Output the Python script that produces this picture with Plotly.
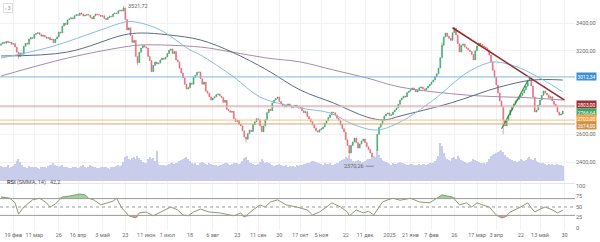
import plotly.graph_objects as go

# ---------------- DATA ----------------
closes = [
3250,3262,3255,3268,3260,3263,3248,3252,3227,3190,3158,3185,3176,3232,3255,3248,3284,3296,3290,3318,
3325,3330,3318,3305,3312,3300,3290,3296,3278,3284,3258,3285,3300,3335,3328,3378,3398,3390,3422,3430,
3438,3430,3452,3460,3455,3472,3465,3450,3455,3462,3457,3440,3429,3450,3465,3460,3457,3448,3452,3432,
3425,3440,3450,3445,3465,3472,3468,3488,3493,3486,3508,3425,3350,3365,3310,3260,3275,3160,3115,3190,
3220,3238,3228,3220,3160,3130,3050,3095,3120,3105,3112,3135,3148,3140,3155,3180,3205,3213,3180,3195,
3135,3120,3075,3040,3005,2960,2925,2935,2969,2960,3010,3025,3045,3048,3000,2960,2975,2910,2895,2870,
2846,2860,2870,2885,2890,2875,2865,2830,2845,2778,2770,2758,2765,2712,2692,2700,2672,2660,2625,2580,
2565,2605,2630,2620,2670,2690,2712,2705,2660,2618,2660,2705,2755,2780,2770,2825,2846,2858,2868,2835,
2820,2805,2796,2808,2818,2805,2790,2800,2810,2798,2789,2795,2770,2755,2762,2728,2710,2690,2668,2645,
2625,2616,2632,2640,2652,2680,2698,2720,2740,2760,2755,2738,2715,2700,2668,2640,2616,2560,2520,2465,
2520,2545,2573,2540,2501,2530,2551,2566,2540,2510,2490,2465,2430,2412,2432,2600,2650,2674,2700,2731,
2745,2753,2735,2740,2760,2775,2789,2815,2846,2860,2875,2868,2900,2910,2920,2933,2918,2904,2915,2935,
2940,2925,2918,2932,2947,2960,2976,2990,3015,3035,3076,3150,3240,3300,3328,3305,3290,3275,3330,3364,
3314,3250,3191,3240,3249,3227,3218,3206,3195,3175,3134,3200,3235,3256,3245,3235,3228,3220,3205,3170,
3120,3060,3010,2954,2897,2840,2800,2700,2660,2700,2738,2774,2800,2818,2840,2850,2868,2880,2897,2920,
2945,2985,3005,2947,2868,2760,2774,2810,2846,2880,2911,2895,2882,2861,2870,2839,2815,2803,2760,2738,
2745,2766.64]
first_open = 3240

wick_high_idx = [70, 259, 302, 252]
wick_high_val = [3521.72, 3372, 3022, 3262]
wick_low_idx = [213, 287, 140, 199, 10, 78]
wick_low_val = [2370.26, 2600, 2540, 2445, 3140, 3098]

volumes = [
75,70,68,72,80,66,70,74,85,100,110,95,80,72,70,66,74,70,68,72,
70,65,62,68,70,72,66,75,80,78,88,82,76,70,74,78,72,70,68,66,
65,70,72,68,64,70,74,78,72,66,70,80,76,72,70,66,64,68,70,72,
70,66,62,68,72,70,74,78,76,80,95,120,125,110,105,115,120,110,125,115,
105,95,90,92,110,120,110,115,100,150,85,80,78,82,76,80,85,88,90,85,
88,92,100,105,110,115,120,110,100,90,85,88,82,80,92,95,90,85,80,88,
85,80,78,82,76,80,78,85,90,88,84,80,86,90,92,88,86,90,100,115,
120,105,95,90,85,82,80,84,95,110,100,92,95,88,84,80,76,82,78,84,
80,76,74,78,72,76,70,74,72,78,76,80,82,84,86,90,92,95,98,100,
95,92,88,85,82,90,86,84,88,82,80,84,90,92,98,104,110,120,115,125,
110,100,95,98,105,100,92,96,100,104,108,112,118,125,120,150,130,115,105,100,
95,90,86,82,88,84,86,90,95,92,88,84,80,82,84,86,82,78,80,84,
82,86,84,80,85,88,90,92,100,110,125,190,175,140,120,110,105,100,115,120,
110,125,115,105,100,96,92,90,95,100,110,105,100,96,92,90,88,86,95,110,
125,130,135,140,145,150,155,145,130,120,115,110,105,100,98,96,100,110,105,100,
105,115,120,110,105,115,100,95,90,92,88,84,82,86,80,84,82,78,84,80,
78,76]

# moving averages (bar index, value)
ma_fast_idx = [0,28,57,71,77,91,108,114,133,148,171,188,202,215,228,247,266,278,283,295,310,321]
ma_fast_val = [3148,3227,3350,3407,3407,3350,3206,3170,3012,2868,2789,2753,2667,2631,2688,2846,3041,3112,3120,3084,2990,2904]
ma_mid_idx = [0,38,70,80,96,114,132,152,171,190,209,219,228,257,285,304,321]
ma_mid_val = [3163,3191,3314,3328,3314,3278,3191,3062,2918,2825,2724,2703,2731,2825,2940,2990,2990]
ma_slow_idx = [0,38,70,80,114,132,152,171,190,209,228,266,304,321]
ma_slow_val = [3019,3148,3227,3242,3227,3191,3148,3120,3062,3005,2940,2882,2861,2846]

# RSI
rsi_idx = [0,5,8,10,13,18,22,26,28,31,35,39,45,48,50,53,57,61,64,66,69,73,77,79,83,87,91,97,101,104,
           107,110,114,119,125,133,137,139,144,148,151,154,158,163,169,175,178,182,186,189,194,198,199,203,207,
           210,213,215,218,221,224,228,234,239,245,249,252,255,258,262,266,269,272,275,279,283,286,288,291,297,
           301,303,305,308,311,315,318,321]
rsi_val = [74,71,60,33,50,67,71,60,50,57,74,76,81,79,71,67,55,60,64,71,48,29,24,36,38,29,38,50,43,31,
           29,38,45,38,36,29,36,26,43,55,50,62,67,55,50,43,31,38,50,60,50,38,29,43,36,
           40,31,43,62,67,71,66,71,62,60,71,79,76,74,55,60,50,60,55,50,31,24,26,38,50,
           60,48,38,45,50,43,36,42.2]

# trend lines (bar index, price)
trend_red_idx = [258, 322]
trend_red_val = [3366, 2846]
trend_green_idx = [286, 301]
trend_green_val = [2640, 2985]

# horizontal levels
level_vals = [3012.34, 2803.00, 2766.64, 2702.00, 2674.00]
level_text = ["3012,34", "2803,00", "2766,64", "2702,00", "2674,00"]

tick_idx = [7,19,33,44,58,71,83,95,108,121,135,147,159,171,183,197,208,222,234,246,259,272,283,297,308,322]
tick_text = ["19 фев","11 мар","26","16 апр","3 май","23","11 июн","1 июл","18","6 авг","23","11 сен","30",
             "17 окт","5 ноя","22","11 дек","2025","21 янв","7 фев","26","17 мар","3 апр","22","13 май","30"]

price_ticks = [2400, 2600, 3200, 3400]
price_tick_text = ["2400,00", "2600,00", "3200,00", "3400,00"]

# ---------------- BUILD ----------------
n = len(closes)
idx = list(range(n))
opens = [first_open] + closes[:-1]
highs = [max(o, c) for o, c in zip(opens, closes)]
lows = [min(o, c) for o, c in zip(opens, closes)]
for i, v in zip(wick_high_idx, wick_high_val):
    highs[i] = max(highs[i], v)
for i, v in zip(wick_low_idx, wick_low_val):
    lows[i] = min(lows[i], v)

GREEN = "#3aa86b"
RED = "#ec6576"
fig = go.Figure()

fig.add_trace(go.Bar(x=idx, y=volumes, marker_color="#c9cdeb", marker_line_width=0,
                     width=0.75, yaxis="y3", xaxis="x", showlegend=False))

fig.add_trace(go.Scatter(x=ma_slow_idx, y=ma_slow_val, mode="lines", line=dict(color="#a98aae", width=1, shape="spline"),
                         xaxis="x", yaxis="y", showlegend=False))
fig.add_trace(go.Scatter(x=ma_mid_idx, y=ma_mid_val, mode="lines", line=dict(color="#5e6b86", width=1, shape="spline"),
                         xaxis="x", yaxis="y", showlegend=False))
fig.add_trace(go.Scatter(x=ma_fast_idx, y=ma_fast_val, mode="lines", line=dict(color="#86bedb", width=1, shape="spline"),
                         xaxis="x", yaxis="y", showlegend=False))

fig.add_trace(go.Candlestick(x=idx, open=opens, high=highs, low=lows, close=closes,
                             increasing=dict(line=dict(color=GREEN, width=0.6), fillcolor=GREEN),
                             decreasing=dict(line=dict(color=RED, width=0.6), fillcolor=RED),
                             whiskerwidth=0, xaxis="x", yaxis="y", showlegend=False))

fig.add_trace(go.Scatter(x=trend_red_idx, y=trend_red_val, mode="lines", line=dict(color="#8e2f2f", width=1.6),
                         xaxis="x", yaxis="y", showlegend=False))
fig.add_trace(go.Scatter(x=trend_green_idx, y=trend_green_val, mode="lines", line=dict(color="#2f8f3a", width=1.2),
                         xaxis="x", yaxis="y", showlegend=False))

# RSI
hi_clip = [max(v, 70) for v in rsi_val]
lo_clip = [min(v, 30) for v in rsi_val]
fig.add_trace(go.Scatter(x=rsi_idx, y=[70]*len(rsi_idx), mode="lines", line=dict(width=0), xaxis="x2", yaxis="y2", showlegend=False))
fig.add_trace(go.Scatter(x=rsi_idx, y=hi_clip, mode="lines", line=dict(width=0), fill="tonexty",
                         fillcolor="rgba(76,175,80,0.55)", xaxis="x2", yaxis="y2", showlegend=False))
fig.add_trace(go.Scatter(x=rsi_idx, y=[30]*len(rsi_idx), mode="lines", line=dict(width=0), xaxis="x2", yaxis="y2", showlegend=False))
fig.add_trace(go.Scatter(x=rsi_idx, y=lo_clip, mode="lines", line=dict(width=0), fill="tonexty",
                         fillcolor="rgba(229,83,83,0.6)", xaxis="x2", yaxis="y2", showlegend=False))
fig.add_trace(go.Scatter(x=rsi_idx, y=rsi_val, mode="lines", line=dict(color="#8a9a76", width=1),
                         xaxis="x2", yaxis="y2", showlegend=False))

PRICE_DOM = [0.2043, 1]
RSI_DOM = [0, 0.2]
XR = [-0.6, 328]
grid = "#f1f2f4"

fig.update_layout(
    width=600, height=242, margin=dict(l=0, r=25, t=0, b=12),
    paper_bgcolor="white", plot_bgcolor="white",
    font=dict(family="Roboto, Arial, sans-serif", size=6, color="#6b6b6b"),
    xaxis=dict(domain=[0, 1], range=XR, anchor="y", tickvals=tick_idx, showticklabels=False,
               showgrid=True, gridcolor=grid, zeroline=False, rangeslider=dict(visible=False), ticks=""),
    xaxis2=dict(domain=[0, 1], range=XR, anchor="y2", tickvals=tick_idx, ticktext=tick_text, tickangle=0,
                showgrid=True, gridcolor=grid, zeroline=False, ticks="", tickfont=dict(size=5.5, color="#6b6b6b")),
    yaxis=dict(domain=PRICE_DOM, range=[2249.6, 3565.4], side="right", tickvals=price_ticks,
               ticktext=price_tick_text, showgrid=True, gridcolor=grid, zeroline=False, ticks="",
               tickfont=dict(size=5.5, color="#6b6b6b")),
    yaxis3=dict(domain=PRICE_DOM, range=[-10, 905], overlaying="y", visible=False),
    yaxis2=dict(domain=RSI_DOM, range=[-4.8, 104.8], side="right", tickvals=[0, 25, 50, 75, 100],
                showgrid=False, zeroline=False, ticks="", tickfont=dict(size=5.5, color="#6b6b6b")),
    bargap=0, showlegend=False,
)

# level lines
level_line_colors = ["#7db9dd", "#cf9a9a", "rgba(0,0,0,0)", "#f2c08a", "#d4a878"]
level_box_colors = ["#3f8fd0", "#9b3232", "#3ea86a", "#f4a34a", "#d0914a"]
level_shift = [0, 2, -1.5, 1.5, -1.5]
for v, lc in zip(level_vals, level_line_colors):
    fig.add_shape(type="line", xref="paper", x0=0, x1=1, yref="y", y0=v, y1=v, line=dict(color=lc, width=1))
fig.add_shape(type="line", xref="paper", x0=0, x1=1, yref="y", y0=level_vals[1] - 6, y1=level_vals[1] - 6,
              line=dict(color="#e8c6c6", width=1))
for v, t, bc, s in zip(level_vals, level_text, level_box_colors, level_shift):
    fig.add_annotation(xref="paper", x=1, xanchor="left", xshift=1, yref="y", y=v, yshift=s, text=t, showarrow=False,
                       bgcolor=bc, font=dict(color="white", size=5), borderpad=0.5, height=6)

# RSI guide lines
for v, dash in [(70, "solid"), (50, "dot"), (30, "solid")]:
    fig.add_shape(type="line", xref="x2", x0=XR[0], x1=XR[1], yref="y2", y0=v, y1=v,
                  line=dict(color="#9a9a9a", width=1, dash=dash))
fig.add_shape(type="line", xref="paper", x0=0, x1=1, yref="paper", y0=0.202, y1=0.202, line=dict(color="#e6e6e6", width=1))

fig.add_annotation(x=70, y=3521.72, xref="x", yref="y", text="3521,72", showarrow=False, xanchor="left",
                   xshift=2, font=dict(size=5.5, color="#666"))
fig.add_annotation(x=213, y=2370.26, xref="x", yref="y", text="2370,26", showarrow=True, arrowhead=0,
                   arrowwidth=0.8, arrowcolor="#777", ax=-8, ay=0, xanchor="right", font=dict(size=5.5, color="#666"))
fig.add_annotation(xref="paper", yref="paper", x=0.008, y=0.183, xanchor="left", showarrow=False,
                   text="<b>RSI</b> (SMMA, 14)   42,2", font=dict(size=5.5, color="#555"))
fig.add_annotation(xref="paper", yref="paper", x=0.006, y=0.985, xanchor="left", yanchor="top", showarrow=False,
                   text="‹ 3", font=dict(size=5, color="#888"), bordercolor="#dddddd", borderwidth=1,
                   borderpad=1, bgcolor="white")

fig.write_html("out.html")
